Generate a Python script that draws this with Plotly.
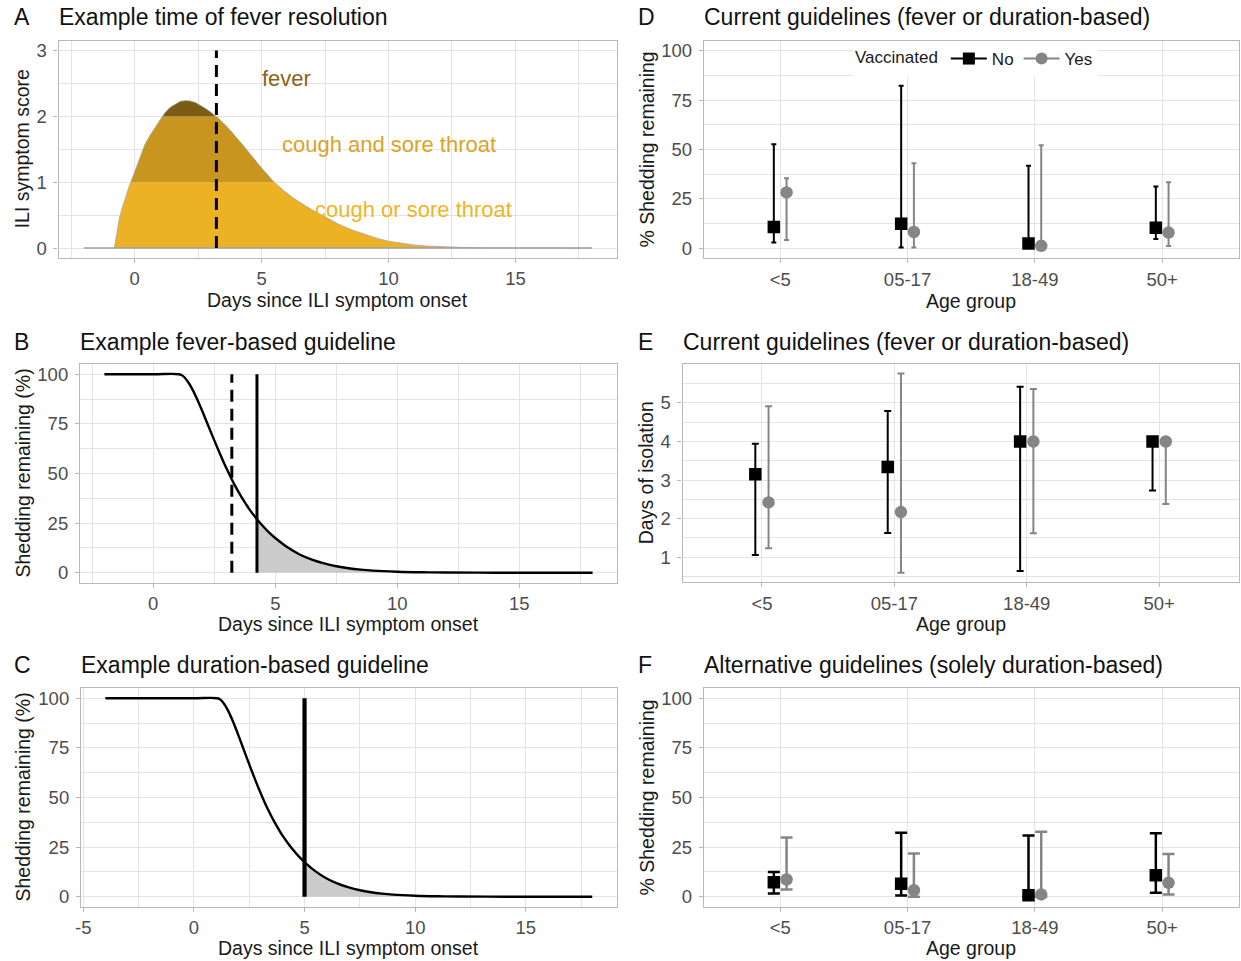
import plotly.graph_objects as go

W, H = 1241, 961

# ---------------- DATA ----------------
# Panel A: example ILI symptom score curve
ili_days = [-0.8, -0.7, -0.6, -0.5, -0.4, -0.3, -0.2, -0.155, 0.0, 0.2, 0.31, 0.4, 0.6, 0.8,
            1.0, 1.09, 1.2, 1.4, 1.6, 1.8, 2.0, 2.2, 2.4, 2.6, 2.8, 3.0, 3.22, 3.4, 3.6,
            3.8, 4.0, 4.2, 4.4, 4.6, 4.8, 5.0, 5.25, 5.5, 5.75, 6.0, 6.25, 6.5, 6.75, 7.0,
            7.5, 8.0, 8.5, 9.0, 9.5, 10.0, 10.5, 11.0, 11.5, 12.0, 13.0, 14.0, 15.0, 18.0]
ili_score = [0, 0.25, 0.46, 0.6, 0.73, 0.85, 0.96, 1.0, 1.16, 1.38, 1.5, 1.57, 1.71, 1.83,
             1.95, 2.0, 2.06, 2.14, 2.19, 2.23, 2.24, 2.235, 2.21, 2.17, 2.12, 2.065, 2.0, 1.935, 1.86,
             1.775, 1.685, 1.595, 1.5, 1.405, 1.31, 1.215, 1.1, 1.0, 0.91, 0.83, 0.76, 0.695, 0.635, 0.58,
             0.47, 0.37, 0.285, 0.215, 0.155, 0.105, 0.072, 0.048, 0.032, 0.021, 0.009, 0.003, 0.001, 0.0]
baseline_days = [-2, 18]
baseline_score = [0, 0]
band_labels = ["cough or sore throat", "cough and sore throat", "fever"]
band_thresholds = [1, 2]
ili_score_max = 3

# Panels B & C: example shedding curve (% remaining)
shed_days = [-4, -2, 0, 1.05, 1.2, 1.4, 1.6, 1.8, 2.0, 2.2, 2.4, 2.6, 2.8, 3.0, 3.22,
             3.4, 3.6, 3.8, 4.0, 4.25, 4.5, 4.75, 5.0, 5.5, 6.0, 6.5, 7.0, 7.5, 8.0,
             8.5, 9.0, 10, 11, 12, 14, 16, 18]
shed_pct = [100, 100, 100, 100, 99.3, 96.6, 92.5, 87.4, 81.7, 75.7, 69.7, 63.8, 58.1, 52.6, 47.0,
            42.8, 38.5, 34.6, 30.9, 27.0, 23.4, 20.2, 17.5, 12.8, 9.2, 6.6, 4.7, 3.3, 2.3,
            1.6, 1.1, 0.55, 0.27, 0.13, 0.03, 0, 0]
shed_start_B = -2
shed_start_C = -4
shed_max = 100
fever_resolution_day = 3.22
isolation_end_fever = 4.25
isolation_end_duration = 5.0

# Tick labels
day_ticks_AB = [0, 5, 10, 15]
day_ticks_C = [-5, 0, 5, 10, 15]
day_ticklabels_C = ["-5", "0", "5", "10", "15"]

# Panels D-F: by age group and vaccination
age_groups = ["<5", "05-17", "18-49", "50+"]
vacc_labels = ["No", "Yes"]

d_no_mid = [10.8, 12.5, 2.5, 10.5]
d_no_lo = [3.0, 0.5, 0.3, 4.7]
d_no_hi = [52.7, 82.2, 41.8, 31.3]
d_yes_mid = [28.3, 8.3, 1.3, 8.0]
d_yes_lo = [4.3, 0.5, 0.3, 1.2]
d_yes_hi = [35.5, 43.0, 52.2, 33.5]

e_no_mid = [3.15, 3.34, 4.0, 4.0]
e_no_lo = [1.06, 1.63, 0.64, 2.73]
e_no_hi = [3.94, 4.79, 5.42, 4.0]
e_yes_mid = [2.42, 2.17, 4.0, 4.0]
e_yes_lo = [1.23, 0.6, 1.62, 2.38]
e_yes_hi = [4.91, 5.76, 5.36, 4.0]

f_no_mid = [7.3, 6.5, 0.8, 10.8]
f_no_lo = [1.7, 0.7, 0.0, 2.0]
f_no_hi = [12.5, 32.3, 30.8, 32.0]
f_yes_mid = [8.7, 3.3, 1.2, 7.0]
f_yes_lo = [3.7, 0.0, 0.0, 1.2]
f_yes_hi = [29.8, 21.8, 32.8, 21.5]

# ---------------- STYLE ----------------
FONT = "Liberation Sans, Arial, Helvetica, sans-serif"
GRID = "#e4e4e4"
BORDER = "#b8b8b8"
TICK_FONT = dict(family=FONT, size=18.5, color="#4d4d4d")
BAND_FILLS = ["#edb124", "#c8951f", "#7b5c14"]
BAND_TEXT = ["#efb427", "#d9a428", "#87661a"]
NO_COL = "#000000"
YES_COL = "#858585"
DODGE = 0.05


def px_x(px):
    return px / W


def px_y(py):
    return 1 - py / H


def axis(dom, rng, tickvals, ticktext=None, minor_vals=None, anchor=None, horizontal=True):
    d = dict(domain=dom, range=rng, tickmode="array", tickvals=tickvals,
             showgrid=True, gridcolor=GRID, gridwidth=1, zeroline=False,
             showline=True, linecolor=BORDER, linewidth=1.2, mirror=True,
             ticks="outside", ticklen=4, tickcolor=BORDER, tickwidth=1,
             tickfont=TICK_FONT, anchor=anchor, fixedrange=True, automargin=False)
    if ticktext is not None:
        d["ticktext"] = ticktext
    if minor_vals is not None:
        d["minor"] = dict(tickmode="array", tickvals=minor_vals, showgrid=True,
                          gridcolor=GRID, gridwidth=0.6, ticks="")
    if not horizontal:
        d["ticklabelstandoff"] = 3
    return d


# panel pixel rectangles (left, right, top, bottom)
rects = {
    "A": (58.5, 617, 40.7, 258.0),
    "B": (80, 617, 364.3, 582.7),
    "C": (81, 616.6, 688.3, 906.7),
    "D": (703.8, 1238.6, 40.7, 258.3),
    "E": (682.5, 1238.6, 364.3, 582.3),
    "F": (703.8, 1238.6, 688.3, 906.7),
}


def xdom(k):
    l, r, t, b = rects[k]
    return [px_x(l), px_x(r)]


def ydom(k):
    l, r, t, b = rects[k]
    return [px_y(b), px_y(t)]


fig = go.Figure()

# ---------- Panel A ----------
for i, lab in enumerate(band_labels):
    if i < len(band_thresholds):
        yv = [min(v, band_thresholds[i]) for v in ili_score]
    else:
        yv = list(ili_score)
    fig.add_trace(go.Scatter(x=ili_days, y=yv, mode="lines", line=dict(width=0),
                             fill="tozeroy" if i == 0 else "tonexty",
                             fillcolor=BAND_FILLS[i], showlegend=False,
                             hoverinfo="skip", xaxis="x", yaxis="y"))
fig.add_trace(go.Scatter(x=ili_days, y=ili_score, mode="lines",
                         line=dict(color="#a8a8a8", width=0.8), showlegend=False,
                         hoverinfo="skip", xaxis="x", yaxis="y"))
fig.add_trace(go.Scatter(x=baseline_days, y=baseline_score, mode="lines",
                         line=dict(color="#a0a0a0", width=1.5), showlegend=False,
                         hoverinfo="skip", xaxis="x", yaxis="y"))
fig.add_trace(go.Scatter(x=[fever_resolution_day, fever_resolution_day], y=[0, ili_score_max],
                         mode="lines", line=dict(color="black", width=3, dash="12px,7px"),
                         showlegend=False, hoverinfo="skip", xaxis="x", yaxis="y"))

label_pos = [(11.0, 0.58), (10.0, 1.57), (6.0, 2.58)]
for i, lab in enumerate(band_labels):
    fig.add_annotation(x=label_pos[i][0], y=label_pos[i][1], xref="x", yref="y",
                       text=lab, showarrow=False,
                       font=dict(family=FONT, size=22, color=BAND_TEXT[i]))


# ---------- Panels B & C ----------
def shed_panel(ax, start, line_x, dashed_x, line_w):
    xs = [d for d in shed_days if d >= start]
    ys = [p for d, p in zip(shed_days, shed_pct) if d >= start]
    fx = [d for d in xs if d >= line_x]
    fy = [p for d, p in zip(xs, ys) if d >= line_x]
    fig.add_trace(go.Scatter(x=fx, y=fy, mode="lines", line=dict(width=0, shape="spline"),
                             fill="tozeroy", fillcolor="#cbcbcb", showlegend=False,
                             hoverinfo="skip", xaxis="x" + ax, yaxis="y" + ax))
    fig.add_trace(go.Scatter(x=xs, y=ys, mode="lines",
                             line=dict(color="black", width=2.4, shape="spline"),
                             showlegend=False, hoverinfo="skip",
                             xaxis="x" + ax, yaxis="y" + ax))
    if dashed_x is not None:
        fig.add_trace(go.Scatter(x=[dashed_x, dashed_x], y=[0, shed_max], mode="lines",
                                 line=dict(color="black", width=3, dash="12px,7px"),
                                 showlegend=False, hoverinfo="skip",
                                 xaxis="x" + ax, yaxis="y" + ax))
    fig.add_trace(go.Scatter(x=[line_x, line_x], y=[0, shed_max], mode="lines",
                             line=dict(color="black", width=line_w),
                             showlegend=False, hoverinfo="skip",
                             xaxis="x" + ax, yaxis="y" + ax))


shed_panel("2", shed_start_B, isolation_end_fever, fever_resolution_day, 3)
shed_panel("3", shed_start_C, isolation_end_duration, None, 4.2)


# ---------- Panels D, E, F ----------
def group_panel(ax, series, capw, thick):
    for (mid, lo, hi), col, sym, off in series:
        xs = [i + off for i in range(len(age_groups))]
        fig.add_trace(go.Scatter(
            x=xs, y=mid, mode="markers",
            marker=dict(symbol=sym, size=12.5, color=col),
            error_y=dict(type="data", symmetric=False,
                         array=[h - m for h, m in zip(hi, mid)],
                         arrayminus=[m - l for m, l in zip(mid, lo)],
                         color=col, thickness=thick, width=capw),
            showlegend=False, hoverinfo="skip", xaxis="x" + ax, yaxis="y" + ax))


group_panel("4", [((d_no_mid, d_no_lo, d_no_hi), NO_COL, "square", -DODGE),
                  ((d_yes_mid, d_yes_lo, d_yes_hi), YES_COL, "circle", DODGE)], 2.5, 2)
group_panel("5", [((e_no_mid, e_no_lo, e_no_hi), NO_COL, "square", -DODGE),
                  ((e_yes_mid, e_yes_lo, e_yes_hi), YES_COL, "circle", DODGE)], 3.5, 2)
group_panel("6", [((f_no_mid, f_no_lo, f_no_hi), NO_COL, "square", -DODGE),
                  ((f_yes_mid, f_yes_lo, f_yes_hi), YES_COL, "circle", DODGE)], 6, 2.5)

# legend entries
for lab, col, sym in zip(vacc_labels, [NO_COL, YES_COL], ["square", "circle"]):
    fig.add_trace(go.Scatter(x=[None], y=[None], mode="lines+markers", name=lab,
                             marker=dict(symbol=sym, size=12, color=col),
                             line=dict(color=col, width=2),
                             xaxis="x4", yaxis="y4"))

# ---------- Axes ----------
pct_ticks = [0, 25, 50, 75, 100]
pct_minor = [12.5, 37.5, 62.5, 87.5]
day_minor = [-2.5, 2.5, 7.5, 12.5, 17.5]
cat_idx = list(range(len(age_groups)))

layout_axes = dict(
    xaxis=axis(xdom("A"), [-3, 19], day_ticks_AB, minor_vals=day_minor, anchor="y"),
    yaxis=axis(ydom("A"), [-0.15, 3.15], [0, 1, 2, 3], minor_vals=[0.5, 1.5, 2.5], anchor="x", horizontal=False),
    xaxis2=axis(xdom("B"), [-3, 19], day_ticks_AB, minor_vals=day_minor, anchor="y2"),
    yaxis2=axis(ydom("B"), [-5, 105], pct_ticks, minor_vals=pct_minor, anchor="x2", horizontal=False),
    xaxis3=axis(xdom("C"), [-5.1, 19.1], day_ticks_C, ticktext=day_ticklabels_C,
                minor_vals=day_minor, anchor="y3"),
    yaxis3=axis(ydom("C"), [-5, 105], pct_ticks, minor_vals=pct_minor, anchor="x3", horizontal=False),
    xaxis4=axis(xdom("D"), [-0.6, 3.6], cat_idx, ticktext=age_groups, anchor="y4"),
    yaxis4=axis(ydom("D"), [-5, 105], pct_ticks, minor_vals=pct_minor, anchor="x4", horizontal=False),
    xaxis5=axis(xdom("E"), [-0.6, 3.6], cat_idx, ticktext=age_groups, anchor="y5"),
    yaxis5=axis(ydom("E"), [0.35, 6.0], [1, 2, 3, 4, 5],
                minor_vals=[0.5, 1.5, 2.5, 3.5, 4.5, 5.5], anchor="x5", horizontal=False),
    xaxis6=axis(xdom("F"), [-0.6, 3.6], cat_idx, ticktext=age_groups, anchor="y6"),
    yaxis6=axis(ydom("F"), [-5, 105], pct_ticks, minor_vals=pct_minor, anchor="x6", horizontal=False),
)

fig.update_layout(
    width=W, height=H, margin=dict(l=0, r=0, t=0, b=0),
    paper_bgcolor="white", plot_bgcolor="white",
    font=dict(family=FONT, color="#1a1a1a"),
    legend=dict(orientation="h", x=px_x(853), xanchor="left", y=px_y(59), yanchor="middle",
                traceorder="normal",
                title=dict(text="Vaccinated", side="left",
                           font=dict(family=FONT, size=17, color="#1a1a1a")),
                font=dict(family=FONT, size=17, color="#1a1a1a"),
                bgcolor="white", borderwidth=0, itemwidth=36),
    **layout_axes,
)

# ---------- Titles ----------
TITLE_FONT = dict(family=FONT, size=23, color="#111111")
LETTER_FONT = dict(family=FONT, size=23, color="#111111")
titles = [
    ("A", "Example time of fever resolution", 12, 56.5, 17),
    ("B", "Example fever-based guideline", 12, 78, 341.5),
    ("C", "Example duration-based guideline", 12, 79, 665),
    ("D", "Current guidelines (fever or duration-based)", 636, 701.8, 17),
    ("E", "Current guidelines (fever or duration-based)", 636, 680.5, 341.5),
    ("F", "Alternative guidelines (solely duration-based)", 636, 701.8, 665),
]
for letter, text, lx, tx, ty in titles:
    fig.add_annotation(x=px_x(lx), y=px_y(ty), xref="paper", yref="paper", text=letter,
                       showarrow=False, xanchor="left", yanchor="middle", font=LETTER_FONT)
    fig.add_annotation(x=px_x(tx), y=px_y(ty), xref="paper", yref="paper", text=text,
                       showarrow=False, xanchor="left", yanchor="middle", font=TITLE_FONT)

# ---------- Axis titles ----------
AX_FONT = dict(family=FONT, size=19.5, color="#1a1a1a")
xtitles = [("A", "Days since ILI symptom onset", 300),
           ("B", "Days since ILI symptom onset", 623.5),
           ("C", "Days since ILI symptom onset", 947.5),
           ("D", "Age group", 300.5),
           ("E", "Age group", 624),
           ("F", "Age group", 948)]
for k, text, y in xtitles:
    l, r, t, b = rects[k]
    fig.add_annotation(x=px_x((l + r) / 2), y=px_y(y), xref="paper", yref="paper",
                       text=text, showarrow=False, xanchor="center", yanchor="middle",
                       font=AX_FONT)
ytitles = [("A", "ILI symptom score", 22),
           ("B", "Shedding remaining (%)", 22),
           ("C", "Shedding remaining (%)", 22),
           ("D", "% Shedding remaining", 646),
           ("E", "Days of isolation", 646),
           ("F", "% Shedding remaining", 646)]
for k, text, x in ytitles:
    l, r, t, b = rects[k]
    fig.add_annotation(x=px_x(x), y=px_y((t + b) / 2), xref="paper", yref="paper",
                       text=text, showarrow=False, xanchor="center", yanchor="middle",
                       textangle=-90, font=AX_FONT)

fig.write_html("out.html", config={"displayModeBar": False},
               post_script="document.body.style.margin='0px';document.body.style.overflow='hidden';")
